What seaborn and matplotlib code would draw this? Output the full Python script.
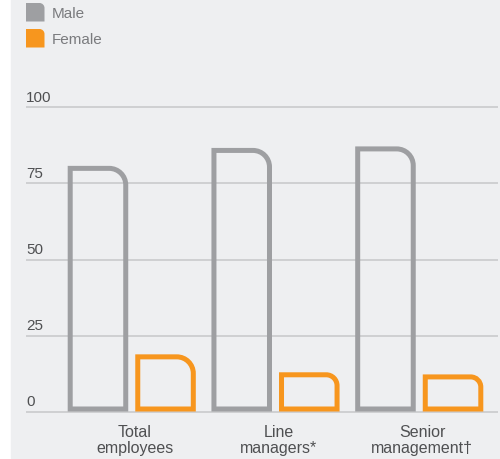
import matplotlib
matplotlib.use("Agg")
import matplotlib.pyplot as plt
from matplotlib.path import Path
from matplotlib.patches import PathPatch, Rectangle
from matplotlib.transforms import blended_transform_factory, ScaledTranslation
import numpy as np
import pandas as pd
import seaborn as sns

# ---- data -------------------------------------------------------------
categories = ["Total\nemployees", "Line\nmanagers*", "Senior\nmanagement\u2020"]
genders = ["Male", "Female"]
male = [80.8, 86.7, 87.2]
female = [18.8, 12.9, 12.2]
yticks = [0, 25, 50, 75, 100]

# ---- style ------------------------------------------------------------
BG = "#eeeff1"
GREY = "#9e9fa2"
ORANGE = "#f7961e"
GRID = "#c9cacc"
LABEL = "#4f5052"
LEGEND_TXT = "#7a7b7e"
plt.rcParams["font.family"] = ["Liberation Sans", "DejaVu Sans"]

W, H = 500, 460
fig = plt.figure(figsize=(W / 100, H / 100), dpi=100, facecolor="white")
fig.patches.append(Rectangle((11 / W, 1 / H), 1 - 11 / W, 1 - 1 / H,
                             transform=fig.transFigure, color=BG, zorder=-5))

# axes geometry in pixels
y0_px, y100_px = 412.5, 108.5
ppu_y = (y0_px - y100_px) / 100.0
ymin, ymax = -1.0, 101.0
bot_px = y0_px + (0 - ymin) * ppu_y
top_px = y100_px - (ymax - 100) * ppu_y
ax_left, ax_right = 26, 498
ax = fig.add_axes([ax_left / W, (H - bot_px) / H, (ax_right - ax_left) / W,
                   (bot_px - top_px) / H])
ax.patch.set_visible(False)
ax.set_zorder(1)

df = pd.DataFrame({
    "role": categories * 2,
    "gender": [genders[0]] * 3 + [genders[1]] * 3,
    "share": male + female,
})
sns.barplot(data=df, x="role", y="share", hue="gender", order=categories,
            hue_order=genders, palette=[GREY, ORANGE], saturation=1,
            width=0.94, gap=0.104, legend=False, ax=ax)

g0_px, g_step = 131.75, 143.75
ax.set_xlim(-(g0_px - ax_left) / g_step, (ax_right - g0_px) / g_step)
ax.set_ylim(ymin, ymax)

# ---- grid, ticks ------------------------------------------------------
ax.set_yticks(yticks)
ax.yaxis.grid(True, color=GRID, lw=1.2)
ax.set_axisbelow(True)
for s in ax.spines.values():
    s.set_visible(False)
ax.tick_params(axis="y", left=False, labelleft=False)
ax.tick_params(axis="x", bottom=False, pad=3.0, labelsize=11.5, labelcolor=LABEL)
ax.set_xlabel("")
ax.set_ylabel("")
shift = ScaledTranslation(3 / 100, 0, fig.dpi_scale_trans)
for lbl in ax.get_xticklabels():
    lbl.set_linespacing(1.1)
    lbl.set_transform(lbl.get_transform() + shift)

ytrans = blended_transform_factory(ax.transAxes, ax.transData) + \
    ScaledTranslation(0, 6 / 100, fig.dpi_scale_trans)
for v in yticks:
    ax.text(0, v, str(v), transform=ytrans, ha="left", va="baseline",
            fontsize=11, color=LABEL)

# ---- outlined bars with a rounded top-right corner ---------------------
LW_PX = 5.0
K = 0.5523
ppu_x = g_step


def rounded_bar(x, w, h, r_px):
    dx, dy = LW_PX / 2 / ppu_x, LW_PX / 2 / ppu_y
    x0, x1 = x + dx, x + w - dx
    y0, y1 = 0 + dy, h - dy
    r = max(r_px - LW_PX / 2, 1)
    rx, ry = r / ppu_x, r / ppu_y
    verts = [(x0, y0), (x0, y1), (x1 - rx, y1),
             (x1 - rx + K * rx, y1), (x1, y1 - ry + K * ry), (x1, y1 - ry),
             (x1, y0), (x0, y0)]
    codes = [Path.MOVETO, Path.LINETO, Path.LINETO,
             Path.CURVE4, Path.CURVE4, Path.CURVE4,
             Path.LINETO, Path.CLOSEPOLY]
    return Path(verts, codes)


bars = [p for p in ax.patches if isinstance(p, Rectangle)]
for b in bars:
    x, w, h = b.get_x(), b.get_width(), b.get_height()
    if w == 0 or h == 0:
        continue
    color = b.get_facecolor()
    r_px = min(19.0, 0.34 * h * ppu_y)
    ax.add_patch(PathPatch(rounded_bar(x, w, h, r_px), facecolor="none",
                           edgecolor=color, lw=LW_PX * 72 / 100,
                           joinstyle="miter", zorder=3))
    b.set_visible(False)

# ---- legend -----------------------------------------------------------
def legend_square(left, top, size, r, color):
    x0, x1 = left / W, (left + size) / W
    y0, y1 = (H - top - size) / H, (H - top) / H
    rx, ry = r / W, r / H
    verts = [(x0, y0), (x0, y1), (x1 - rx, y1),
             (x1 - rx + K * rx, y1), (x1, y1 - ry + K * ry), (x1, y1 - ry),
             (x1, y0), (x0, y0)]
    codes = [Path.MOVETO, Path.LINETO, Path.LINETO,
             Path.CURVE4, Path.CURVE4, Path.CURVE4,
             Path.LINETO, Path.CLOSEPOLY]
    fig.patches.append(PathPatch(Path(verts, codes), facecolor=color,
                                 edgecolor="none", transform=fig.transFigure,
                                 zorder=2))


for i, (name, color) in enumerate(zip(genders, [GREY, ORANGE])):
    top = 4 + i * 26
    legend_square(26, top, 18.5, 5, color)
    fig.text(52 / W, (H - (top + 9.5)) / H, name, ha="left", va="center",
             fontsize=11, color=LEGEND_TXT)

fig.savefig("out.png", dpi=100, facecolor=fig.get_facecolor())
